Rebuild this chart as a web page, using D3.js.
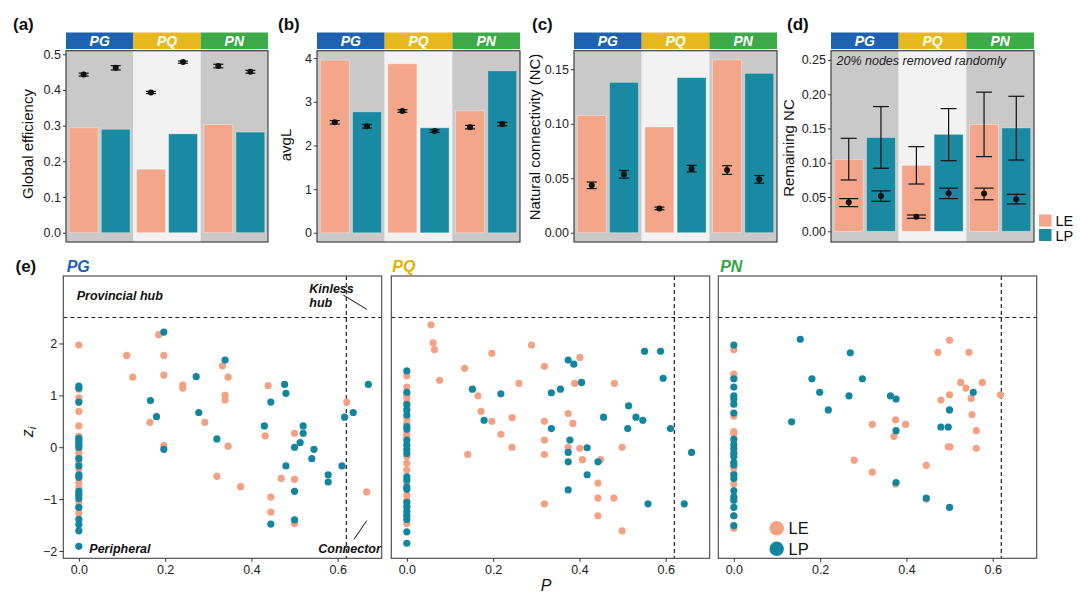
<!DOCTYPE html>
<html><head><meta charset="utf-8">
<script src="https://cdn.jsdelivr.net/npm/d3@7"></script>
<style>html,body{margin:0;padding:0;background:#fff;}svg{display:block;font-family:"Liberation Sans",Arial,Helvetica,sans-serif;}</style>
</head><body>
<svg id="c" width="1080" height="595"></svg>
<script>
// ---------- data ----------
const groups = ["PG", "PQ", "PN"];
const types = ["LE", "LP"];
// order: PG-LE, PG-LP, PQ-LE, PQ-LP, PN-LE, PN-LP
const effBar = [0.294, 0.290, 0.178, 0.277, 0.303, 0.282];
const effPt = [0.443, 0.462, 0.393, 0.478, 0.467, 0.451];
const effErr = [0.004, 0.006, 0.003, 0.003, 0.005, 0.004];
const avgLBar = [3.954, 2.771, 3.87, 2.405, 2.794, 3.71];
const avgLPt = [2.53, 2.44, 2.79, 2.33, 2.42, 2.49];
const avgLErr = [0.04, 0.04, 0.03, 0.03, 0.04, 0.04];
const ncBar = [0.1074, 0.138, 0.097, 0.1423, 0.1586, 0.1463];
const ncPt = [0.0435, 0.0536, 0.0223, 0.0588, 0.0575, 0.049];
const ncErr = [0.003, 0.0035, 0.0012, 0.003, 0.004, 0.0035];
const remBar = [0.105, 0.137, 0.0963, 0.1415, 0.156, 0.1508];
const remBarHi = [0.1357, 0.182, 0.1235, 0.179, 0.203, 0.197];
const remBarLo = [0.0749, 0.092, 0.069, 0.103, 0.109, 0.104];
const remPt = [0.0423, 0.0516, 0.0214, 0.0555, 0.055, 0.0467];
const remPtHi = [0.0477, 0.059, 0.0238, 0.063, 0.063, 0.054];
const remPtLo = [0.036, 0.0438, 0.019, 0.0477, 0.046, 0.040];
const effTicks = [0, 0.1, 0.2, 0.3, 0.4, 0.5];
const avgLTicks = [0, 1, 2, 3, 4];
const ncTicks = [0, 0.05, 0.10, 0.15];
const remTicks = [0, 0.05, 0.10, 0.15, 0.20, 0.25];
const pTicks = [0, 0.2, 0.4, 0.6];
const zTicks = [-2, -1, 0, 1, 2];
const zThreshold = 2.5;
const pThreshold = 0.62;

// scatter [P, z]
const pgLE = [[0,1.97],[0,1.12],[0,0.95],[0,0.87],[0,0.69],[0,0.41],[0,0.21],[0,0.14],[0,0.05],[0,-0.05],[0,-0.12],[0,-0.2],[0,-0.3],[0,-0.42],[0,-0.55],[0,-0.68],[0,-0.78],[0,-0.9],[0,-1.05],[0,-1.15],[0,-1.27],
[0.111,1.77],[0.125,1.35],[0.185,2.17],[0.197,1.77],[0.197,1.39],[0.241,1.2],[0.241,1.14],[0.165,0.48],[0.197,0.03],[0.292,0.48],[0.333,1.57],[0.346,1.35],[0.339,1.0],[0.339,0.91],[0.346,0.02],[0.320,-0.56],[0.375,-0.76],[0.439,1.19],[0.432,0.22],[0.445,-0.96],[0.445,-1.25],[0.469,-0.6],[0.5,0.27],[0.5,-0.62],[0.5,-1.47],[0.621,0.87],[0.667,-0.86]];
const pgLP = [[0,1.18],[0,1.14],[0,0.87],[0,0.17],[0,0.12],[0,0.06],[0,0.0],[0,-0.22],[0,-0.36],[0,-0.53],[0,-0.58],[0,-0.85],[0,-0.92],[0,-0.99],[0,-1.16],[0,-1.39],[0,-1.49],[0,-1.61],[0,-1.91],
[0.197,2.22],[0.339,1.68],[0.272,1.36],[0.166,0.9],[0.18,0.59],[0.278,0.67],[0.197,-0.04],[0.32,0.16],[0.477,1.21],[0.48,1.04],[0.445,0.87],[0.43,0.41],[0.52,0.41],[0.52,0.27],[0.513,0.09],[0.5,0.0],[0.545,-0.04],[0.54,-0.22],[0.48,-0.36],[0.5,-0.85],[0.5,-1.4],[0.445,-1.48],[0.578,-0.53],[0.578,-0.67],[0.61,-0.36],[0.616,0.58],[0.636,0.67],[0.671,1.21]];
const pqLE = [[0,1.38],[0,1.16],[0,1.01],[0,0.95],[0,0.85],[0,0.72],[0,0.56],[0,0.46],[0,0.27],[0,0.21],[0,0.01],[0,-0.18],[0,-0.31],[0,-0.44],[0,-0.69],[0,-0.92],[0,-1.02],[0,-1.18],[0,-1.34],[0,-1.47],
[0.056,2.36],[0.061,2.01],[0.064,1.88],[0.076,1.29],[0.134,1.52],[0.141,-0.14],[0.165,0.99],[0.172,0.69],[0.197,1.81],[0.197,0.5],[0.218,0.25],[0.244,0.57],[0.244,0.0],[0.26,1.23],[0.289,1.97],[0.319,1.56],[0.319,0.5],[0.319,0.14],[0.319,-0.14],[0.319,-1.09],[0.374,0.65],[0.374,0.0],[0.385,0.46],[0.389,1.23],[0.401,1.73],[0.401,-0.02],[0.407,-0.24],[0.449,-0.24],[0.443,-0.69],[0.443,-0.98],[0.443,-1.32],[0.48,-0.98],[0.481,1.23],[0.499,0.0],[0.499,-1.61]];
const pqLP = [[0,1.47],[0,1.06],[0,0.82],[0,0.72],[0,0.62],[0,0.4],[0,0.35],[0,0.14],[0,0.05],[0,-0.05],[0,-0.12],[0,-0.57],[0,-0.63],[0,-0.77],[0,-0.81],[0,-1.06],[0,-1.14],[0,-1.24],[0,-1.31],[0,-1.39],[0,-1.63],[0,-1.85],
[0.152,1.12],[0.179,0.52],[0.218,1.03],[0.335,1.05],[0.335,0.36],[0.356,1.12],[0.374,1.68],[0.387,1.6],[0.405,1.25],[0.378,0.14],[0.374,-0.1],[0.374,-0.28],[0.374,-0.82],[0.418,-0.01],[0.418,-0.53],[0.443,-0.28],[0.456,0.58],[0.514,0.8],[0.512,0.36],[0.531,0.58],[0.547,0.52],[0.551,1.85],[0.588,1.85],[0.594,1.33],[0.611,0.36],[0.559,-1.09],[0.643,-1.09],[0.66,-0.1]];
const pnLE = [[0,1.88],[0,1.41],[0,1.36],[0,0.6],[0,0.3],[0,0.25],[0,-0.1],[0,-0.4],[0,-0.51],[0,-0.71],[0,-0.95],[0,-1.32],[0,-1.56],
[0.279,-0.25],[0.321,0.44],[0.321,-0.48],[0.371,0.21],[0.375,0.53],[0.398,0.44],[0.375,-0.71],[0.446,-0.35],[0.446,-1.0],[0.473,1.83],[0.5,2.06],[0.48,0.91],[0.5,1.01],[0.497,0.01],[0.501,0.01],[0.526,1.25],[0.538,1.14],[0.545,1.83],[0.55,0.94],[0.552,0.63],[0.562,0.32],[0.562,-0.02],[0.576,1.25],[0.618,1.01]];
const pnLP = [[0,1.97],[0,1.32],[0,1.16],[0,0.99],[0,0.93],[0,0.83],[0,0.66],[0,0.15],[0,0.05],[0,-0.03],[0,-0.12],[0,-0.18],[0,-0.29],[0,-0.34],[0,-0.53],[0,-0.6],[0,-0.84],[0,-0.96],[0,-1.02],[0,-1.16],[0,-1.32],[0,-1.51],
[0.154,2.08],[0.27,1.82],[0.181,1.32],[0.298,1.32],[0.199,1.06],[0.267,0.99],[0.219,0.72],[0.134,0.49],[0.363,0.99],[0.376,0.93],[0.376,0.32],[0.376,-0.68],[0.446,-0.98],[0.5,0.72],[0.48,0.39],[0.497,0.39],[0.5,-1.16],[0.555,1.06]];

// ---------- style ----------
const colType = {LE: "#F3A68A", LP: "#1A8AA3"};
const colPt = {LE: "#F2A283", LP: "#12869F"};
const colGroup = {PG: "#1E63B0", PQ: "#E6B81E", PN: "#3DAA48"};
const colGroupText = {PG: "#1E5FB3", PQ: "#E2B000", PN: "#35A43C"};
const bgGroup = {PG: "#C9C9C9", PQ: "#F2F2F2", PN: "#C9C9C9"};
const FONT = '"Liberation Sans",Arial,Helvetica,sans-serif';

const svg = d3.select("#c");

// ---------- top bar panels ----------
const topY0 = 242, topY1 = 50.7;
const panels = [
  {lab: "(a)", labX: 13, x0: 66, x1: 268, dom: [-0.026, 0.51], ticks: effTicks, fmt: ".1f", bar: effBar, pt: effPt, err: effErr, title: "Global efficiency", tx: 33, ty: 144},
  {lab: "(b)", labX: 278, x0: 317, x1: 520, dom: [-0.21, 4.17], ticks: avgLTicks, fmt: "d", bar: avgLBar, pt: avgLPt, err: avgLErr, title: "avgL", tx: 291, ty: 145},
  {lab: "(c)", labX: 532, x0: 574, x1: 777, dom: [-0.0085, 0.167], ticks: ncTicks, fmt: ".2f", bar: ncBar, pt: ncPt, err: ncErr, title: "Natural connectivity (NC)", tx: 540, ty: 137},
  {lab: "(d)", labX: 787, x0: 831, x1: 1034, dom: [-0.0156, 0.2635], ticks: remTicks, fmt: ".2f", bar: remBar, pt: remPt, err: null, title: "Remaining NC", tx: 794, ty: 148}
];

panels.forEach((p, pi) => {
  const g = svg.append("g");
  const xg = d3.scaleBand().domain(groups).range([p.x0, p.x1]).padding(0);
  const xs = d3.scaleBand().domain(types).range([0, xg.bandwidth()]).paddingInner(0.1).paddingOuter(0.1);
  const y = d3.scaleLinear().domain(p.dom).range([topY0, topY1]);

  // strips
  groups.forEach(gr => {
    g.append("rect").attr("x", xg(gr)).attr("y", 32.5).attr("width", xg.bandwidth()).attr("height", 16.5).attr("fill", colGroup[gr]);
    g.append("text").attr("x", xg(gr) + xg.bandwidth() / 2).attr("y", 45.5).attr("text-anchor", "middle")
      .attr("fill", "#fff").attr("font-size", 14).attr("font-weight", "bold").attr("font-style", "italic").text(gr);
    g.append("rect").attr("x", xg(gr)).attr("y", topY1).attr("width", xg.bandwidth()).attr("height", topY0 - topY1).attr("fill", bgGroup[gr]);
  });

  // bars
  const items = [];
  groups.forEach((gr, gi) => types.forEach((t, ti) => items.push({gr, t, i: gi * 2 + ti})));
  g.selectAll(".bar").data(items).enter().append("rect")
    .attr("x", d => xg(d.gr) + xs(d.t)).attr("width", xs.bandwidth())
    .attr("y", d => y(p.bar[d.i])).attr("height", d => y(0) - y(p.bar[d.i]))
    .attr("fill", d => colType[d.t]).attr("stroke", "rgba(255,255,255,0.45)").attr("stroke-width", 0.8);

  const cx = d => xg(d.gr) + xs(d.t) + xs.bandwidth() / 2;
  const drawErr = (lo, hi, d, half) => {
    g.append("line").attr("x1", cx(d)).attr("x2", cx(d)).attr("y1", y(lo)).attr("y2", y(hi)).attr("stroke", "#111").attr("stroke-width", 1.2);
    [lo, hi].forEach(v => g.append("line").attr("x1", cx(d) - half).attr("x2", cx(d) + half).attr("y1", y(v)).attr("y2", y(v)).attr("stroke", "#111").attr("stroke-width", 1.2));
  };
  items.forEach(d => {
    if (p.err) {
      drawErr(p.pt[d.i] - p.err[d.i], p.pt[d.i] + p.err[d.i], d, 5);
    } else {
      drawErr(remBarLo[d.i], remBarHi[d.i], d, 8);
      drawErr(remPtLo[d.i], remPtHi[d.i], d, 9.5);
    }
  });
  g.selectAll(".pt").data(items).enter().append("circle")
    .attr("cx", cx).attr("cy", d => y(p.pt[d.i])).attr("r", 3).attr("fill", "#111");

  // border
  g.append("rect").attr("x", p.x0).attr("y", topY1).attr("width", p.x1 - p.x0).attr("height", topY0 - topY1)
    .attr("fill", "none").attr("stroke", "#333").attr("stroke-width", 1.1);

  // y axis
  const ax = g.append("g").attr("transform", `translate(${p.x0},0)`)
    .call(d3.axisLeft(y).tickValues(p.ticks).tickFormat(d3.format(p.fmt)).tickSize(3).tickPadding(2));
  ax.select(".domain").remove();
  ax.selectAll("line").attr("stroke", "#333");
  ax.selectAll("text").attr("font-size", 12.5).attr("fill", "#222").attr("font-family", FONT);

  g.append("text").attr("transform", `translate(${p.tx},${p.ty}) rotate(-90)`).attr("text-anchor", "middle")
    .attr("font-size", 15).attr("fill", "#111").text(p.title);
  g.append("text").attr("x", p.labX).attr("y", 30).attr("font-size", 17).attr("font-weight", "bold").attr("fill", "#111").text(p.lab);

  if (pi === 3) {
    g.append("text").attr("x", 836.5).attr("y", 64.5).attr("font-size", 12.5).attr("font-style", "italic").attr("fill", "#222")
      .text("20% nodes removed randomly");
    types.forEach((t, ti) => {
      g.append("rect").attr("x", 1039).attr("y", 214.5 + ti * 14.5).attr("width", 12.5).attr("height", 12).attr("fill", colType[t]);
      g.append("text").attr("x", 1055.5).attr("y", 226 + ti * 14.5).attr("font-size", 14.5).attr("fill", "#111").text(t);
    });
  }
});

// ---------- bottom scatter panels ----------
const botY0 = 558.3, botY1 = 276;
const yz = d3.scaleLinear().domain([-2.14, 3.30]).range([botY0, botY1]);
const sp = [
  {gr: "PG", x0: 63.3, le: pgLE, lp: pgLP},
  {gr: "PQ", x0: 391.3, le: pqLE, lp: pqLP},
  {gr: "PN", x0: 718.3, le: pnLE, lp: pnLP}
];
const spW = 318.4;
sp.forEach((s, si) => {
  const g = svg.append("g");
  const x = d3.scaleLinear().domain([-0.036, 0.702]).range([s.x0, s.x0 + spW]);
  g.append("rect").attr("x", s.x0).attr("y", botY1).attr("width", spW).attr("height", botY0 - botY1).attr("fill", "#fff");
  // thresholds
  g.append("line").attr("x1", s.x0).attr("x2", s.x0 + spW).attr("y1", yz(zThreshold)).attr("y2", yz(zThreshold))
    .attr("stroke", "#222").attr("stroke-width", 1.2).attr("stroke-dasharray", "4,3");
  g.append("line").attr("x1", x(pThreshold)).attr("x2", x(pThreshold)).attr("y1", botY1).attr("y2", botY0)
    .attr("stroke", "#222").attr("stroke-width", 1.2).attr("stroke-dasharray", "4,3");
  // points
  [["LE", s.le], ["LP", s.lp]].forEach(([t, arr]) => {
    g.selectAll(".p" + t).data(arr).enter().append("circle")
      .attr("cx", d => x(d[0])).attr("cy", d => yz(d[1])).attr("r", 3.6).attr("fill", colPt[t]);
  });
  g.append("rect").attr("x", s.x0).attr("y", botY1).attr("width", spW).attr("height", botY0 - botY1)
    .attr("fill", "none").attr("stroke", "#444").attr("stroke-width", 1.1);
  // x axis
  const ax = g.append("g").attr("transform", `translate(0,${botY0})`)
    .call(d3.axisBottom(x).tickValues(pTicks).tickFormat(d3.format(".1f")).tickSize(3.5).tickPadding(3));
  ax.select(".domain").remove();
  ax.selectAll("line").attr("stroke", "#333");
  ax.selectAll("text").attr("font-size", 12.5).attr("fill", "#222").attr("font-family", FONT);
  if (si === 0) {
    const ay = g.append("g").attr("transform", `translate(${s.x0},0)`)
      .call(d3.axisLeft(yz).tickValues(zTicks).tickFormat(d3.format("d")).tickSize(4).tickPadding(2));
    ay.select(".domain").remove();
    ay.selectAll("line").attr("stroke", "#333");
    ay.selectAll("text").attr("font-size", 12.5).attr("fill", "#222").attr("font-family", FONT);
  }
  g.append("text").attr("x", s.x0 + 3.4 + (si === 2 ? -1.5 : (si === 1 ? -2.4 : 0))).attr("y", 271.5)
    .attr("font-size", 16).attr("font-weight", "bold").attr("font-style", "italic").attr("fill", colGroupText[s.gr]).text(s.gr);

  if (si === 0) {
    const ann = (t, xx, yy) => g.append("text").attr("x", xx).attr("y", yy).attr("font-size", 12.5)
      .attr("font-weight", "bold").attr("font-style", "italic").attr("fill", "#111").text(t);
    ann("Provincial hub", 76.7, 300);
    ann("Kinless", 309.3, 292.5);
    ann("hub", 309.3, 307);
    ann("Peripheral", 89.3, 553);
    ann("Connector", 318.3, 553);
    g.append("line").attr("x1", 343.3).attr("y1", 295).attr("x2", 366.7).attr("y2", 309.3).attr("stroke", "#111").attr("stroke-width", 1);
    g.append("line").attr("x1", 366.7).attr("y1", 520.7).attr("x2", 354).attr("y2", 539.3).attr("stroke", "#111").attr("stroke-width", 1);
  }
  if (si === 2) {
    types.forEach((t, ti) => {
      g.append("circle").attr("cx", 776.7).attr("cy", 528.3 + ti * 20.5).attr("r", 7.2).attr("fill", colPt[t]);
      g.append("text").attr("x", 788.5).attr("y", 534.3 + ti * 20.5).attr("font-size", 16.5).attr("fill", "#111").text(t);
    });
  }
});

svg.append("text").attr("x", 15.5).attr("y", 271.5).attr("font-size", 17).attr("font-weight", "bold").attr("fill", "#111").text("(e)");
// y label z_i
const zl = svg.append("text").attr("transform", "translate(33,432) rotate(-90)").attr("text-anchor", "middle")
  .attr("font-size", 16).attr("font-style", "italic").attr("fill", "#111");
zl.append("tspan").text("z");
zl.append("tspan").attr("font-size", 11).attr("dy", 3).text("i");
svg.append("text").attr("x", 546).attr("y", 590.5).attr("text-anchor", "middle").attr("font-size", 16).attr("font-style", "italic").attr("fill", "#111").text("P");
</script>
</body></html>
